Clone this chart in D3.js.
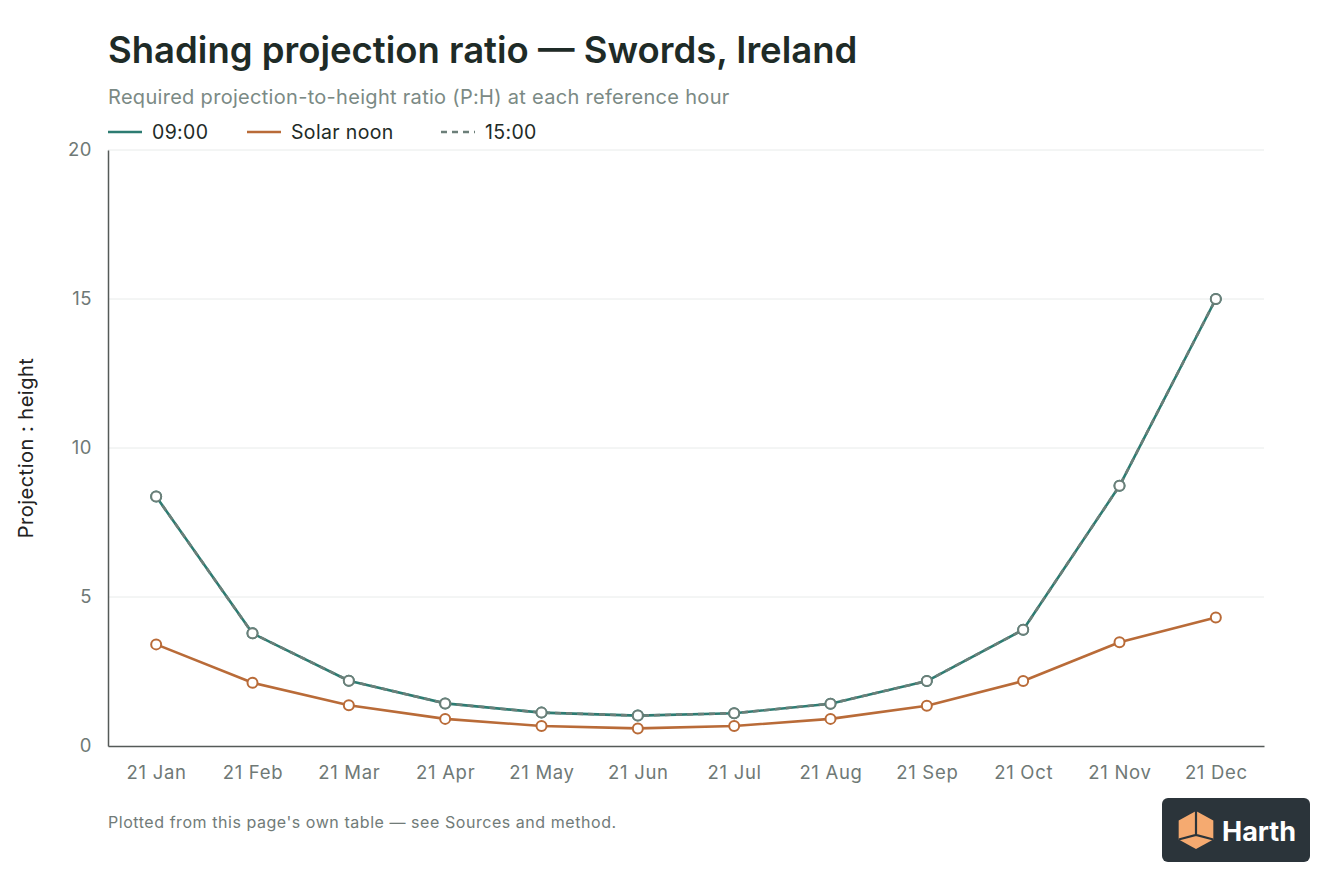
<!DOCTYPE html>
<html>
<head>
<meta charset="utf-8">
<script src="https://cdn.jsdelivr.net/npm/d3@7"></script>
<style>
  html, body { margin: 0; padding: 0; background: #ffffff; }
  svg { display: block; font-family: Inter, "Liberation Sans", Arial, sans-serif; }
</style>
</head>
<body>
<div id="chart"></div>
<script>
// Values.
const months = ["21 Jan", "21 Feb", "21 Mar", "21 Apr", "21 May", "21 Jun",
  "21 Jul", "21 Aug", "21 Sep", "21 Oct", "21 Nov", "21 Dec"];
const morning = [8.37, 3.78, 2.19, 1.43, 1.12, 1.02, 1.10, 1.42, 2.18, 3.90, 8.73, 15.0];
const noon = [3.41, 2.12, 1.37, 0.91, 0.67, 0.59, 0.67, 0.91, 1.35, 2.18, 3.48, 4.31];
const afternoon = [8.37, 3.78, 2.19, 1.43, 1.12, 1.02, 1.10, 1.42, 2.18, 3.90, 8.73, 15.0];
const yTicks = [0, 5, 10, 15, 20];

const W = 1344, H = 896;
const m = { left: 108, right: 80, top: 150, bottom: 150 };
const colors = { morning: "#2d7c72", noon: "#b96b38", afternoon: "#6c7f79" };

const svg = d3.select("#chart").append("svg")
  .attr("width", W).attr("height", H).attr("viewBox", `0 0 ${W} ${H}`);

const x = d3.scalePoint().domain(months).range([m.left, W - m.right]).padding(0.5);
const y = d3.scaleLinear().domain([0, 20]).range([H - m.bottom, m.top]);

// titles
svg.append("text").attr("x", 108).attr("y", 63)
  .attr("font-size", 36.5).attr("font-weight", 600).attr("fill", "#1e2b27")
  .text("Shading projection ratio — Swords, Ireland");
svg.append("text").attr("x", 108).attr("y", 104)
  .attr("font-size", 20).attr("letter-spacing", 0.3).attr("fill", "#7b8a85")
  .text("Required projection-to-height ratio (P:H) at each reference hour");

// legend
const legend = [
  { label: "09:00", color: colors.morning, dash: null, x: 108 },
  { label: "Solar noon", color: colors.noon, dash: null, x: 247 },
  { label: "15:00", color: colors.afternoon, dash: "6 5", x: 441 }
];
const lg = svg.selectAll("g.legend").data(legend).join("g").attr("class", "legend");
lg.append("line")
  .attr("x1", (d) => d.x).attr("x2", (d) => d.x + 34)
  .attr("y1", 132).attr("y2", 132)
  .attr("stroke", (d) => d.color).attr("stroke-width", 2.5)
  .attr("stroke-dasharray", (d) => d.dash);
lg.append("text")
  .attr("x", (d) => d.x + 44).attr("y", 139)
  .attr("font-size", 19.5).attr("letter-spacing", 0.35).attr("fill", "#1e2b27")
  .text((d) => d.label);

// grid
svg.selectAll("line.grid").data(yTicks.filter((d) => d > 0)).join("line")
  .attr("class", "grid")
  .attr("x1", m.left).attr("x2", W - m.right)
  .attr("y1", (d) => y(d)).attr("y2", (d) => y(d))
  .attr("stroke", "#e8ebea").attr("stroke-width", 1);

// axes
const yAxis = svg.append("g").attr("transform", `translate(${m.left},0)`)
  .call(d3.axisLeft(y).tickValues(yTicks).tickSize(0).tickPadding(16));
yAxis.select(".domain").attr("stroke", "#555a58").attr("stroke-width", 1.5);
yAxis.selectAll("text").attr("font-size", 18.5).attr("letter-spacing", 0.5)
  .attr("fill", "#6f7976").attr("font-family", "Inter, sans-serif");

const xAxis = svg.append("g").attr("transform", `translate(0,${H - m.bottom})`)
  .call(d3.axisBottom(x).tickSize(0).tickPadding(20));
xAxis.select(".domain").attr("stroke", "#555a58").attr("stroke-width", 1.5);
xAxis.selectAll("text").attr("font-size", 18.5).attr("letter-spacing", 0.7)
  .attr("fill", "#6f7976").attr("font-family", "Inter, sans-serif");

svg.append("text")
  .attr("transform", `translate(33,${(m.top + H - m.bottom) / 2}) rotate(-90)`)
  .attr("text-anchor", "middle")
  .attr("font-size", 20).attr("letter-spacing", 0.5).attr("fill", "#222")
  .text("Projection : height");

// series
const line = d3.line().x((d, i) => x(months[i])).y((d) => y(d));
const series = [
  { values: morning, color: colors.morning, dash: null },
  { values: noon, color: colors.noon, dash: null },
  { values: afternoon, color: colors.afternoon, dash: "6 5" }
];
series.forEach((s) => {
  svg.append("path").datum(s.values)
    .attr("d", line).attr("fill", "none")
    .attr("stroke", s.color).attr("stroke-width", 2.6)
    .attr("stroke-linejoin", "round")
    .attr("stroke-dasharray", s.dash);
});
series.forEach((s) => {
  svg.append("g").selectAll("circle").data(s.values).join("circle")
    .attr("cx", (d, i) => x(months[i])).attr("cy", (d) => y(d))
    .attr("r", 5).attr("fill", "#fff")
    .attr("stroke", s.color).attr("stroke-width", 2);
});

// footer
svg.append("text").attr("x", 108).attr("y", 828)
  .attr("font-size", 16).attr("letter-spacing", 0.55).attr("fill", "#717b78")
  .text("Plotted from this page's own table — see Sources and method.");

// logo badge
const logo = svg.append("g").attr("transform", "translate(1162,798)");
logo.append("rect").attr("width", 148).attr("height", 64).attr("rx", 6).attr("fill", "#2b343a");
const cx = 34, cy = 32, r = 20;
const hex = d3.range(6).map((k) => {
  const a = Math.PI / 180 * (60 * k - 90);
  return [cx + r * Math.cos(a), cy + r * 0.95 * Math.sin(a)];
});
logo.append("path").attr("d", "M" + hex.join("L") + "Z").attr("fill", "#f5aa70");
logo.append("path")
  .attr("d", `M${hex[0]} L${cx},${cy + 5} M${hex[2]} L${cx},${cy + 5} L${hex[4]}`)
  .attr("fill", "none").attr("stroke", "#2b343a").attr("stroke-width", 2.2);
logo.append("text").attr("x", 60).attr("y", 43)
  .attr("font-size", 27).attr("font-weight", 700).attr("fill", "#ffffff")
  .text("Harth");
</script>
</body>
</html>
